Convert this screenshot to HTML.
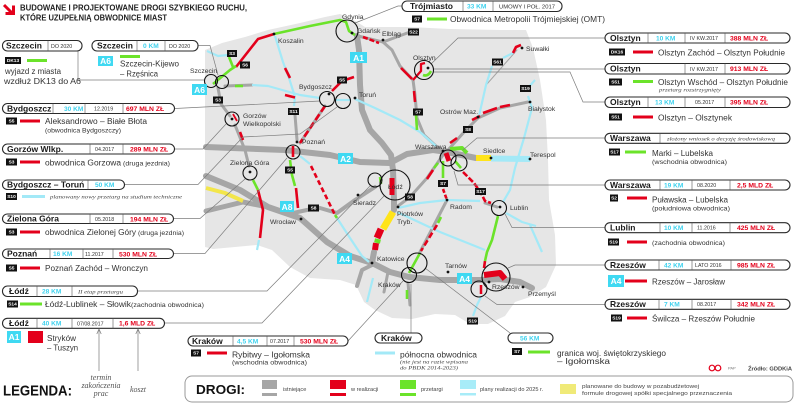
<!DOCTYPE html>
<html><head><meta charset="utf-8">
<style>
html,body{margin:0;padding:0;background:#fff;}
svg{display:block;}
text{font-family:"Liberation Sans",sans-serif;}
.c{font-weight:bold;font-size:8.5px;fill:#1a1a1a}
.km{font-weight:bold;font-size:6.6px;fill:#3fd2ee}
.dt{font-size:5.3px;fill:#333}
.mn{font-weight:bold;font-size:6.8px;fill:#e3001b}
.d{font-size:8px;fill:#333}
.s{font-size:6.3px;fill:#333}
.it{font-family:"Liberation Serif",serif;font-style:italic;font-size:5.4px;fill:#444}
.m{font-size:6.8px;fill:#333}
.bt{font-weight:bold;font-size:4.8px;fill:#fff;text-anchor:middle}
.at{font-weight:bold;font-size:8.5px;fill:#fff;text-anchor:middle}
.pill{fill:#fff;stroke:#2a2a2a;stroke-width:1.1}
.dv{stroke:#555;stroke-width:.6}
.ld{fill:none;stroke:#7d7d7d;stroke-width:.7}
.g{fill:none;stroke:#a6a6a6;stroke-linecap:round;stroke-linejoin:round}
.r{fill:none;stroke:#e3001b;stroke-width:2.6;stroke-linejoin:round}
.gr{fill:none;stroke:#6be32a;stroke-width:2.6;stroke-linejoin:round}
.cy{fill:none;stroke:#a3e9f7;stroke-width:2.2;stroke-linejoin:round}
.ci{fill:none;stroke:#111;stroke-width:1.1}
.lg{font-size:5.6px;fill:#444}
.ser{font-family:"Liberation Serif",serif;font-style:italic;font-size:8px;fill:#555;text-anchor:middle}
</style></head><body>
<svg width="805" height="418" viewBox="0 0 805 418" xmlns="http://www.w3.org/2000/svg">

<!-- Title -->
<path d="M4,5 L11.5,12.5" stroke="#e3001b" stroke-width="3" fill="none"/>
<path d="M5.5,13.5 L13.5,13.5 L13.5,5.5" stroke="#e3001b" stroke-width="3" fill="none"/>
<text x="20" y="10.5" font-weight="bold" font-size="8.5" fill="#222" textLength="227" lengthAdjust="spacingAndGlyphs">BUDOWANE I PROJEKTOWANE DROGI SZYBKIEGO RUCHU,</text>
<text x="20" y="20.5" font-weight="bold" font-size="8.5" fill="#222" textLength="147" lengthAdjust="spacingAndGlyphs">KTÓRE UZUPEŁNIĄ OBWODNICE MIAST</text>

<!-- Map background -->
<path d="M205,50 L222,43 L245,37 L268,30 L300,23 L325,17 L340,14 L352,19 L365,27 L382,27 L410,27 L450,29 L500,30 L526,30 L533,48 L540,80 L546,120 L548,160 L549,200 L555,235 L556,265 L546,287 L530,297 L515,302 L505,316 L488,324 L470,324 L455,315 L435,314 L412,319 L392,318 L375,310 L364,302 L356,285 L340,280 L310,278 L290,267 L272,250 L257,245 L235,247 L213,249 L205,247 Z" fill="#e6e6e6"/>

<!-- thin grey roads -->
<g class="g" stroke-width="3">
<path d="M358,36 L383,42 L410,32"/>
<path d="M383,42 L392,50 L400,66 L413,80 L415,95 L417,118 L424,135 L436,146 L445,152"/>
<path d="M448,150 L465,131 L478,118 L500,108 L528,102"/>
<path d="M218,88 L221,104 L230,116"/>
<path d="M235,125 L245,150 L249,166"/>
<path d="M225,86 L252,85"/>
<path d="M295,115 L297,140"/>
<path d="M325,106 L300,143"/>
<path d="M293,213 L307,210 L320,208 L337,213 L355,200 L375,187" stroke-width="4"/>
<path d="M398,206 L410,197 L427,178 L443,155"/>
<path d="M447,200 L420,252"/>
<path d="M485,203 L497,207"/>
<path d="M408,283 L410,305"/>
<path d="M372,265 L362,270 L357,286" stroke-width="4"/>
<path d="M388,272 L384,292" />
<path d="M487,84 L517,50" stroke-width="1"/>
</g>

<!-- thick grey roads -->
<g class="g" stroke-width="6">
<path d="M357,36 L359,50 L360,85 L362,110 L370,130 L382,143 L391,155 L393,170 L394,200 L394,210"/>
<path d="M206,147 L285,150 L330,155 L360,162 L390,163 L407,154 L433,150 L447,152 L476,158"/>
<path d="M206,176 L240,190 L268,207 L300,218 L327,242 L350,256 L372,263 L390,272 L409,277 L440,280 L480,280 L500,279 L520,282 L532,288"/>
<path d="M206,211 L243,202 L268,207" stroke-width="5"/>
<path d="M374,252 L372,263"/>
</g>

<!-- yellow -->
<path d="M206,188 L225,193 L243,201" stroke="#f3e64a" stroke-width="4" fill="none"/>
<path d="M476,158 L491,158" stroke="#ffe41a" stroke-width="6" fill="none"/>
<path d="M393,212 L383,229" stroke="#ffe41a" stroke-width="7" fill="none"/>

<!-- cyan -->
<path d="M491,158.5 L530,159" stroke="#a3e9f7" stroke-width="6" fill="none"/>
<g class="cy">
<path d="M207,51 L218,56 L228,55"/>
<path d="M252,85 L268,86 L300,95 L320,98"/>
<path d="M335,100 L350,100"/>
<path d="M355,99 L375,108 L400,120 L420,132 L436,146"/>
<path d="M275,36 L283,62 L289,78 L295,97 L294,106"/>
<path d="M300,156 L310,164"/>
<path d="M337,218 L350,238 L362,256 L369,262"/>
<path d="M373,278 L367,302"/>
<path d="M479,116 L486,85 L492,66"/>
<path d="M503,58 L513,53"/>
<path d="M535,80 L528,88"/>
<path d="M528,96 L532,108 L524,138 L515,168 L510,190 L503,202"/>
<path d="M506,213 L522,222 L536,226"/>
<path d="M530,225 L542,252"/>
<path d="M398,208 L420,203 L447,200 L480,201"/>
<path d="M397,212 L440,232 L485,250"/>
<path d="M481,297 L477,305 L473,316"/>
<path d="M259,240 L257,250"/>
</g>

<!-- red -->
<g class="r">
<path d="M236,67 L258,39 L274,34"/>
<path d="M363,37 L379,43" stroke-dasharray="5,2"/>
<path d="M401,68 L412,79"/>
<path d="M414,91 L415,102"/>
<path d="M413,80 L421,71 L421,64 L425,63" stroke-width="2.3"/>
<path d="M513,53 L516,47 L521,45"/>
<path d="M332,91 L342,81 L354,77"/>
<path d="M325,106 L300,143" stroke-dasharray="7,3"/>
<path d="M285,95 L295,97.5"/>
<path d="M285,68 L290,78"/>
<path d="M240,132 L243,140"/>
<path d="M233,114 L237,121" stroke-width="1.8"/>
<path d="M258,190 L263,210 L260,238"/>
<path d="M293,146 L293,157"/>
<path d="M296,188 L298,208"/>
<path d="M311,166 L335,215" stroke-dasharray="5,3"/>
<path d="M450,143 L457,138"/>
<path d="M472,120 L480,116"/>
<path d="M483,113 L497,108"/>
<path d="M500,107 L510,105"/>
<path d="M446,153 L449,161" stroke-width="5"/>
<path d="M427,179 L433,170"/>
<path d="M443,189 L447,200" stroke-dasharray="4,2"/>
<path d="M437,225 L421,251" stroke-dasharray="6,3"/>
<path d="M463,172 L474,183 L481,193 L485,201 L491,203" stroke-dasharray="6,2"/>
<path d="M392,178 L392,195" stroke-width="5"/>
<path d="M381,229 L377,238" stroke-width="7"/>
<path d="M376,243 L375,250" stroke-width="6"/>
<path d="M485,261 L484,268"/>
<path d="M484,275 L500,273 L505,279" stroke-width="6"/>
<path d="M481,285 L481,294" stroke-width="2.5"/>
</g>

<!-- green -->
<g class="gr">
<path d="M213,84 L230,70 L236,66"/>
<path d="M229,57 L233,67"/>
<path d="M235,86 L243,86"/>
<path d="M274,34 L310,26 L340,20 L346,22 L349,31 L355,35"/>
<path d="M423,75 Q428,77 431,71"/>
<path d="M416,115 L417,130"/>
<path d="M450,149 L462,148 L467,153" stroke-width="4"/>
<path d="M455,161 L461,168"/>
<path d="M443,161 L443,178"/>
<path d="M434,168 L438,163"/>
<path d="M441,217 L438,223"/>
<path d="M420,253 L409,273"/>
<path d="M407,290 L407,299"/>
<path d="M498,216 L492,240 L487,252 L485,261"/>
<path d="M290,160 L292,175 L295,186"/>
<path d="M253,180 L258,190"/>
<path d="M380,177 L381,184"/>
<path d="M335,215 L337,218"/>
<path d="M378,239 L377,243" stroke-width="6"/>
</g>

<!-- leader lines -->
<g class="ld">
<path d="M78,51 L78,80 L204,80"/>
<path d="M198,45.5 L210,45.5 L218,75"/>
<path d="M175,108.5 L320,101"/>
<path d="M175,149 L203,149 L226,124"/>
<path d="M125,184.5 L198,184.5 L243,137 L300,134 L337,107"/>
<path d="M173,218.5 L200,218.5 L245,179"/>
<path d="M173,253.5 L205,253.5 L287,158"/>
<path d="M137,291 L267,291 L370,186"/>
<path d="M164,323 L262,323 L384,196"/>
<path d="M348,341 L403,281"/>
<path d="M411,333 L411,284"/>
<path d="M510,333 L425,268"/>
<path d="M355,23 L398,6 L402,6"/>
<path d="M431,64 L458,38 L605,38"/>
<path d="M433,69 L605,69"/>
<path d="M433,72 L570,72 L583,102 L605,102"/>
<path d="M463,150 L477,138 L605,138"/>
<path d="M454,171 L458,185 L605,185"/>
<path d="M505,214 L512,227.5 L605,227.5"/>
<path d="M508,268 L515,265 L605,265"/>
<path d="M485,296 L497,304.5 L605,304.5"/>
</g>

<!-- circles -->
<g class="ci">
<circle cx="211" cy="81" r="6.5"/><circle cx="222" cy="82" r="6.5"/>
<circle cx="347" cy="31" r="11"/>
<circle cx="424" cy="70" r="9.5"/>
<circle cx="327" cy="99" r="7.5"/><circle cx="343" cy="101" r="7.5"/>
<circle cx="232" cy="119" r="7"/>
<circle cx="293" cy="152" r="7"/>
<circle cx="250" cy="173" r="7"/>
<circle cx="375" cy="180" r="7"/><circle cx="395" cy="185" r="15"/>
<circle cx="448" cy="158" r="8"/><circle cx="459" cy="163" r="8"/>
<circle cx="499" cy="208" r="7.5"/>
<circle cx="417" cy="263" r="10"/><circle cx="409" cy="275" r="7.5"/>
<circle cx="496" cy="277" r="14"/><circle cx="479" cy="289" r="8"/>
</g>

<!-- dots -->
<g fill="#111">
<circle cx="274" cy="34" r="1.4"/><circle cx="352" cy="33" r="1.4"/><circle cx="383" cy="40" r="1.4"/>
<circle cx="428" cy="68" r="1.4"/><circle cx="522" cy="48" r="1.4"/><circle cx="530" cy="102" r="1.4"/>
<circle cx="478" cy="117" r="1.4"/><circle cx="329" cy="94" r="1.4"/><circle cx="355" cy="98" r="1.4"/>
<circle cx="232" cy="119" r="1.4"/><circle cx="297" cy="142" r="1.4"/><circle cx="250" cy="172" r="1.4"/>
<circle cx="443" cy="151" r="1.4"/><circle cx="491" cy="158" r="1.4"/><circle cx="530" cy="159" r="1.4"/>
<circle cx="358" cy="195" r="1.4"/><circle cx="398" cy="207" r="1.4"/><circle cx="447" cy="200" r="1.4"/>
<circle cx="500" cy="207" r="1.4"/><circle cx="301" cy="219" r="1.4"/><circle cx="372" cy="263" r="1.4"/>
<circle cx="448" cy="272" r="1.4"/><circle cx="489" cy="282" r="1.4"/><circle cx="523" cy="287" r="1.4"/>
</g>

<!-- map labels -->
<g class="m">
<text x="342" y="19">Gdynia</text>
<text x="357" y="33">Gdańsk</text>
<text x="382" y="36">Elbląg</text>
<text x="278" y="43">Koszalin</text>
<text x="413" y="60">Olsztyn</text>
<text x="526" y="51">Suwałki</text>
<text x="528" y="111">Białystok</text>
<text x="440" y="114">Ostrów Maz.</text>
<text x="299" y="89">Bydgoszcz</text>
<text x="359" y="97">Toruń</text>
<text x="190" y="73">Szczecin</text>
<text x="243" y="118">Gorzów</text>
<text x="243" y="126">Wielkopolski</text>
<text x="302" y="144">Poznań</text>
<text x="230" y="165">Zielona Góra</text>
<text x="415" y="149">Warszawa</text>
<text x="483" y="153">Siedlce</text>
<text x="530" y="157">Terespol</text>
<text x="388" y="189">Łódź</text>
<text x="353" y="205">Sieradz</text>
<text x="397" y="216">Piotrków</text>
<text x="397" y="224">Tryb.</text>
<text x="450" y="209">Radom</text>
<text x="510" y="210">Lublin</text>
<text x="270" y="224">Wrocław</text>
<text x="377" y="261">Katowice</text>
<text x="378" y="287">Kraków</text>
<text x="445" y="268">Tarnów</text>
<text x="492" y="289">Rzeszów</text>
<text x="528" y="296">Przemyśl</text>
</g>

<!-- map badges -->
<g>
<rect x="227" y="50" width="10" height="7" fill="#111"/><text class="bt" x="232" y="55.2">S3</text>
<rect x="240" y="61.5" width="10" height="7" fill="#111"/><text class="bt" x="245" y="66.7">S6</text>
<rect x="213" y="96.5" width="10" height="7" fill="#111"/><text class="bt" x="218" y="101.7">S3</text>
<rect x="288" y="108" width="11" height="7" fill="#111"/><text class="bt" x="293.5" y="113.2">S11</text>
<rect x="337" y="76.5" width="10" height="7" fill="#111"/><text class="bt" x="342" y="81.7">S5</text>
<rect x="285" y="166.5" width="10" height="7" fill="#111"/><text class="bt" x="290" y="171.7">S5</text>
<rect x="308" y="204.5" width="11" height="7" fill="#111"/><text class="bt" x="313.5" y="209.7">S8</text>
<rect x="405" y="193.5" width="10" height="7" fill="#111"/><text class="bt" x="410" y="198.7">S8</text>
<rect x="413" y="108.5" width="10" height="7" fill="#111"/><text class="bt" x="418" y="113.7">S7</text>
<rect x="408" y="28.5" width="11" height="7" fill="#111"/><text class="bt" x="413.5" y="33.7">S22</text>
<rect x="492" y="58.5" width="11" height="7" fill="#111"/><text class="bt" x="497.5" y="63.7">S61</text>
<rect x="520" y="85" width="11" height="7" fill="#111"/><text class="bt" x="525.5" y="90.2">S19</text>
<rect x="463" y="126" width="10" height="7" fill="#111"/><text class="bt" x="468" y="131.2">S8</text>
<rect x="438" y="180" width="10" height="7" fill="#111"/><text class="bt" x="443" y="185.2">S7</text>
<rect x="475" y="188" width="11" height="7" fill="#111"/><text class="bt" x="480.5" y="193.2">S17</text>
<rect x="467" y="317.5" width="11" height="7" fill="#111"/><text class="bt" x="472.5" y="322.7">S19</text>
</g>

<!-- A labels -->
<g>
<rect x="192" y="84" width="15" height="11" fill="#3fd9f2"/><text class="at" x="199.5" y="92.8">A6</text>
<rect x="350" y="52" width="17" height="11" fill="#3fd9f2"/><text class="at" x="358.5" y="60.8">A1</text>
<rect x="338" y="153" width="15" height="11" fill="#3fd9f2"/><text class="at" x="345.5" y="161.8">A2</text>
<rect x="280" y="201" width="14" height="11" fill="#3fd9f2"/><text class="at" x="287" y="209.8">A8</text>
<rect x="337" y="253" width="15" height="11" fill="#3fd9f2"/><text class="at" x="344.5" y="261.8">A4</text>
<rect x="457" y="273" width="15" height="11" fill="#3fd9f2"/><text class="at" x="464.5" y="281.8">A4</text>
</g>

<!-- LEFT COLUMN -->
<rect class="pill" x="2.5" y="40.5" width="79.5" height="10.5" rx="5"/>
<line class="dv" x1="48" y1="40.5" x2="48" y2="51"/>
<text class="c" x="6" y="48.5">Szczecin</text><text class="dt" x="51" y="47.8">DO 2020</text>
<rect x="5" y="57" width="16" height="7" fill="#111"/><text class="bt" x="13" y="62.2">DK13</text>
<line x1="27" y1="60.5" x2="47" y2="60.5" stroke="#6be32a" stroke-width="3"/>
<text class="d" x="5" y="74" textLength="56" lengthAdjust="spacingAndGlyphs">wyjazd z miasta</text>
<text class="d" x="4" y="84" textLength="77" lengthAdjust="spacingAndGlyphs">wzdłuż DK13 do A6</text>

<rect class="pill" x="92" y="40.5" width="106" height="10.5" rx="5"/>
<line class="dv" x1="137" y1="40.5" x2="137" y2="51"/><line class="dv" x1="165" y1="40.5" x2="165" y2="51"/>
<text class="c" x="97" y="48.5">Szczecin</text><text class="km" x="143" y="48">0 KM</text><text class="dt" x="169" y="47.8">DO 2020</text>
<rect x="98" y="56" width="15" height="10" fill="#3fd9f2"/><text class="at" x="105.5" y="64" font-size="7.5">A6</text>
<line x1="120" y1="56.5" x2="140" y2="56.5" stroke="#6be32a" stroke-width="3"/>
<text class="d" x="120" y="66.5" textLength="59" lengthAdjust="spacingAndGlyphs">Szczecin-Kijewo</text>
<text class="d" x="120" y="76.5" textLength="38" lengthAdjust="spacingAndGlyphs">– Rzęśnica</text>

<rect class="pill" x="2.5" y="103.5" width="172" height="10" rx="5"/>
<line class="dv" x1="53" y1="103.5" x2="53" y2="113.5"/><line class="dv" x1="85" y1="103.5" x2="85" y2="113.5"/><line class="dv" x1="123" y1="103.5" x2="123" y2="113.5"/>
<text class="c" x="7" y="111.3">Bydgoszcz</text><text class="km" x="64" y="110.8">30 KM</text><text class="dt" x="94" y="110.5">12.2019</text><text class="mn" x="126" y="110.8">697 MLN ZŁ</text>
<rect x="6" y="117.5" width="11" height="7" fill="#111"/><text class="bt" x="11.5" y="122.7">S5</text>
<line x1="20" y1="121" x2="40" y2="121" stroke="#e3001b" stroke-width="3"/>
<text class="d" x="45" y="124" textLength="102" lengthAdjust="spacingAndGlyphs">Aleksandrowo – Białe Błota</text>
<text class="s" x="45" y="132.5" textLength="76" lengthAdjust="spacingAndGlyphs">(obwodnica Bydgoszczy)</text>

<rect class="pill" x="2.5" y="144" width="172" height="10" rx="5"/>
<line class="dv" x1="90" y1="144" x2="90" y2="154"/><line class="dv" x1="123" y1="144" x2="123" y2="154"/>
<text class="c" x="7" y="151.8">Gorzów Wlkp.</text><text class="dt" x="95" y="151">04.2017</text><text class="mn" x="130" y="151.3">289 MLN ZŁ</text>
<rect x="6" y="158.5" width="11" height="7" fill="#111"/><text class="bt" x="11.5" y="163.7">S3</text>
<line x1="20" y1="162" x2="40" y2="162" stroke="#e3001b" stroke-width="3"/>
<text class="d" x="45" y="165.5" textLength="76" lengthAdjust="spacingAndGlyphs">obwodnica Gorzowa</text>
<text class="s" x="123" y="165.5" textLength="47" lengthAdjust="spacingAndGlyphs">(druga jezdnia)</text>

<rect class="pill" x="2.5" y="180" width="122" height="9.5" rx="5"/>
<line class="dv" x1="88" y1="180" x2="88" y2="189.5"/>
<text class="c" x="7" y="187.6">Bydgoszcz – Toruń</text><text class="km" x="95" y="187">50 KM</text>
<rect x="6" y="193" width="11" height="7" fill="#111"/><text class="bt" x="11.5" y="198.2">S10</text>
<line x1="22" y1="196.5" x2="45" y2="196.5" stroke="#a3e9f7" stroke-width="3"/>
<text class="it" x="50" y="198.5" textLength="132" lengthAdjust="spacingAndGlyphs">planowany nowy przetarg na studium techniczne</text>

<rect class="pill" x="2.5" y="214" width="171" height="9.5" rx="5"/>
<line class="dv" x1="90" y1="214" x2="90" y2="223.5"/><line class="dv" x1="123" y1="214" x2="123" y2="223.5"/>
<text class="c" x="7" y="221.6">Zielona Góra</text><text class="dt" x="95" y="221">05.2018</text><text class="mn" x="130" y="221.3">194 MLN ZŁ</text>
<rect x="6" y="228.5" width="11" height="7" fill="#111"/><text class="bt" x="11.5" y="233.7">S3</text>
<line x1="20" y1="232" x2="40" y2="232" stroke="#e3001b" stroke-width="3"/>
<text class="d" x="45" y="235" textLength="91" lengthAdjust="spacingAndGlyphs">obwodnica Zielonej Góry</text>
<text class="s" x="138" y="235" textLength="46" lengthAdjust="spacingAndGlyphs">(druga jezdnia)</text>

<rect class="pill" x="2.5" y="249" width="171" height="9.5" rx="5"/>
<line class="dv" x1="50" y1="249" x2="50" y2="258.5"/><line class="dv" x1="83" y1="249" x2="83" y2="258.5"/><line class="dv" x1="113" y1="249" x2="113" y2="258.5"/>
<text class="c" x="7" y="256.6">Poznań</text><text class="km" x="53" y="256">16 KM</text><text class="dt" x="85" y="256">11.2017</text><text class="mn" x="119" y="256.3">530 MLN ZŁ</text>
<rect x="6" y="264.5" width="11" height="7" fill="#111"/><text class="bt" x="11.5" y="269.7">S5</text>
<line x1="20" y1="268" x2="40" y2="268" stroke="#e3001b" stroke-width="3"/>
<text class="d" x="45" y="271" textLength="103" lengthAdjust="spacingAndGlyphs">Poznań Zachód – Wronczyn</text>

<rect class="pill" x="2.5" y="286" width="135" height="10.5" rx="5"/>
<line class="dv" x1="37" y1="286" x2="37" y2="296.5"/><line class="dv" x1="72" y1="286" x2="72" y2="296.5"/>
<text class="c" x="9" y="294">Łódź</text><text class="km" x="42" y="293.5">28 KM</text><text class="it" x="78" y="293.5" textLength="45" lengthAdjust="spacingAndGlyphs">II etap przetargu</text>
<rect x="7" y="300.5" width="11" height="7" fill="#111"/><text class="bt" x="12.5" y="305.7">S14</text>
<line x1="20" y1="304" x2="42" y2="304" stroke="#6be32a" stroke-width="3"/>
<text class="d" x="45" y="307" textLength="86" lengthAdjust="spacingAndGlyphs">Łódź-Lublinek – Słowik</text>
<text class="s" x="131" y="307" textLength="73" lengthAdjust="spacingAndGlyphs">(zachodnia obwodnica)</text>

<rect class="pill" x="2.5" y="318.3" width="162" height="10" rx="5"/>
<line class="dv" x1="37" y1="318.3" x2="37" y2="328.3"/><line class="dv" x1="72" y1="318.3" x2="72" y2="328.3"/><line class="dv" x1="113" y1="318.3" x2="113" y2="328.3"/>
<text class="c" x="9" y="326">Łódź</text><text class="km" x="42" y="325.6">40 KM</text><text class="dt" x="77" y="325.3">07/08.2017</text><text class="mn" x="119" y="325.6">1,6 MLD ZŁ</text>
<rect x="7" y="331" width="14" height="12" fill="#3fd9f2"/><text class="at" x="14" y="340" font-size="7.5">A1</text>
<rect x="28" y="331" width="15" height="12" fill="#e3001b"/>
<text class="d" x="47" y="341" textLength="29" lengthAdjust="spacingAndGlyphs">Stryków</text>
<text class="d" x="47" y="350.5" textLength="31" lengthAdjust="spacingAndGlyphs">– Tuszyn</text>

<!-- legend explanations -->
<path d="M99,330 L99,371" stroke="#777" stroke-width=".7"/>
<path d="M96.8,334 L99,329 L101.2,334" fill="none" stroke="#777" stroke-width=".7"/>
<path d="M138,330 L138,371" stroke="#777" stroke-width=".7"/>
<path d="M135.8,334 L138,329 L140.2,334" fill="none" stroke="#777" stroke-width=".7"/>
<text class="ser" x="101" y="380">termin</text>
<text class="ser" x="101" y="388">zakończenia</text>
<text class="ser" x="101" y="396">prac</text>
<text class="ser" x="138" y="392">koszt</text>
<text x="3" y="395.5" font-weight="bold" font-size="15" fill="#111" textLength="69" lengthAdjust="spacingAndGlyphs">LEGENDA:</text>

<!-- Trójmiasto -->
<rect class="pill" x="402" y="1" width="160" height="10.5" rx="5"/>
<line class="dv" x1="463" y1="1" x2="463" y2="11.5"/><line class="dv" x1="493" y1="1" x2="493" y2="11.5"/>
<text class="c" x="410" y="9.2">Trójmiasto</text><text class="km" x="467" y="8.7">33 KM</text><text class="dt" x="499" y="8.3" textLength="56" lengthAdjust="spacingAndGlyphs">UMOWY I POŁ. 2017</text>
<rect x="412" y="15.5" width="10" height="7" fill="#111"/><text class="bt" x="417" y="20.7">S7</text>
<line x1="427" y1="19" x2="447" y2="19" stroke="#6be32a" stroke-width="3"/>
<text class="d" x="450" y="22" textLength="155" lengthAdjust="spacingAndGlyphs">Obwodnica Metropolii Trójmiejskiej (OMT)</text>

<!-- RIGHT COLUMN -->
<rect class="pill" x="605" y="33" width="185" height="10" rx="5"/>
<line class="dv" x1="648" y1="33" x2="648" y2="43"/><line class="dv" x1="685" y1="33" x2="685" y2="43"/><line class="dv" x1="725" y1="33" x2="725" y2="43"/>
<text class="c" x="610" y="40.8">Olsztyn</text><text class="km" x="656" y="40.3">10 KM</text><text class="dt" x="690" y="40">IV KW.2017</text><text class="mn" x="730" y="40.3">388 MLN ZŁ</text>
<rect x="609" y="48.5" width="16" height="7" fill="#111"/><text class="bt" x="617" y="53.7">DK16</text>
<line x1="633" y1="52" x2="653" y2="52" stroke="#e3001b" stroke-width="3"/>
<text class="d" x="658" y="55.5" textLength="127" lengthAdjust="spacingAndGlyphs">Olsztyn Zachód – Olsztyn Południe</text>

<rect class="pill" x="605" y="63.5" width="185" height="10.5" rx="5"/>
<line class="dv" x1="685" y1="63.5" x2="685" y2="74"/><line class="dv" x1="725" y1="63.5" x2="725" y2="74"/>
<text class="c" x="610" y="71.5">Olsztyn</text><text class="dt" x="690" y="70.8">IV KW.2017</text><text class="mn" x="730" y="71">913 MLN ZŁ</text>
<rect x="609" y="78.5" width="13" height="7" fill="#111"/><text class="bt" x="615.5" y="83.7">S51</text>
<line x1="633" y1="81.5" x2="653" y2="81.5" stroke="#6be32a" stroke-width="3"/>
<text class="d" x="658" y="84.8" textLength="130" lengthAdjust="spacingAndGlyphs">Olsztyn Wschód – Olsztyn Południe</text>
<text class="it" x="659" y="91.3" textLength="62" lengthAdjust="spacingAndGlyphs">przetarg rozstrzygnięty</text>

<rect class="pill" x="605" y="97" width="185" height="10.5" rx="5"/>
<line class="dv" x1="648" y1="97" x2="648" y2="107.5"/><line class="dv" x1="685" y1="97" x2="685" y2="107.5"/><line class="dv" x1="725" y1="97" x2="725" y2="107.5"/>
<text class="c" x="610" y="105">Olsztyn</text><text class="km" x="655" y="104.5">13 KM</text><text class="dt" x="695" y="104.2">05.2017</text><text class="mn" x="730" y="104.5">395 MLN ZŁ</text>
<rect x="609" y="113.5" width="13" height="7" fill="#111"/><text class="bt" x="615.5" y="118.7">S51</text>
<line x1="633" y1="117" x2="653" y2="117" stroke="#e3001b" stroke-width="3"/>
<text class="d" x="658" y="120.5" textLength="74" lengthAdjust="spacingAndGlyphs">Olsztyn – Olsztynek</text>

<rect class="pill" x="605" y="133.3" width="185" height="10" rx="5"/>
<line class="dv" x1="660" y1="133.3" x2="660" y2="143.3"/>
<text class="c" x="610" y="141">Warszawa</text>
<text class="it" x="667" y="140.3" textLength="108" lengthAdjust="spacingAndGlyphs">złożony wniosek o decyzję środowiskową</text>
<rect x="609" y="148.5" width="11" height="7" fill="#111"/><text class="bt" x="614.5" y="153.7">S17</text>
<line x1="625" y1="152" x2="646" y2="152" stroke="#6be32a" stroke-width="3"/>
<text class="d" x="652" y="155.8" textLength="61" lengthAdjust="spacingAndGlyphs">Marki – Lubelska</text>
<text class="s" x="652" y="163.8" textLength="75" lengthAdjust="spacingAndGlyphs">(wschodnia obwodnica)</text>

<rect class="pill" x="605" y="180" width="185" height="10" rx="5"/>
<line class="dv" x1="660" y1="180" x2="660" y2="190"/><line class="dv" x1="692" y1="180" x2="692" y2="190"/><line class="dv" x1="730" y1="180" x2="730" y2="190"/>
<text class="c" x="610" y="187.8">Warszawa</text><text class="km" x="664" y="187.3">19 KM</text><text class="dt" x="697" y="187">08.2020</text><text class="mn" x="737" y="187.3">2,5 MLD ZŁ</text>
<rect x="610" y="194.5" width="8" height="7" fill="#111"/><text class="bt" x="614" y="199.7">S2</text>
<line x1="627" y1="198" x2="647" y2="198" stroke="#e3001b" stroke-width="3"/>
<text class="d" x="652" y="202.3" textLength="76" lengthAdjust="spacingAndGlyphs">Puławska – Lubelska</text>
<text class="s" x="652" y="210.5" textLength="78" lengthAdjust="spacingAndGlyphs">(południowa obwodnica)</text>

<rect class="pill" x="605" y="222.7" width="185" height="10" rx="5"/>
<line class="dv" x1="660" y1="222.7" x2="660" y2="232.7"/><line class="dv" x1="692" y1="222.7" x2="692" y2="232.7"/><line class="dv" x1="730" y1="222.7" x2="730" y2="232.7"/>
<text class="c" x="610" y="230.5">Lublin</text><text class="km" x="664" y="230">10 KM</text><text class="dt" x="697" y="229.7">11.2016</text><text class="mn" x="737" y="230">425 MLN ZŁ</text>
<rect x="608" y="238.5" width="11" height="7" fill="#111"/><text class="bt" x="613.5" y="243.7">S19</text>
<line x1="627" y1="242" x2="647" y2="242" stroke="#e3001b" stroke-width="3"/>
<text class="s" x="652" y="245" font-size="6.6" textLength="73" lengthAdjust="spacingAndGlyphs">(zachodnia obwodnica)</text>

<rect class="pill" x="605" y="260" width="185" height="10" rx="5"/>
<line class="dv" x1="659" y1="260" x2="659" y2="270"/><line class="dv" x1="692" y1="260" x2="692" y2="270"/><line class="dv" x1="731" y1="260" x2="731" y2="270"/>
<text class="c" x="610" y="267.8">Rzeszów</text><text class="km" x="664" y="267.3">42 KM</text><text class="dt" x="695" y="267">LATO 2016</text><text class="mn" x="737" y="267.3">985 MLN ZŁ</text>
<rect x="608" y="275" width="16" height="12" fill="#3fd9f2"/><text class="at" x="616" y="284" font-size="7.5">A4</text>
<line x1="625" y1="281" x2="647" y2="281" stroke="#e3001b" stroke-width="3"/>
<text class="d" x="652" y="284.5" textLength="73" lengthAdjust="spacingAndGlyphs">Rzeszów – Jarosław</text>

<rect class="pill" x="605" y="299.3" width="185" height="10" rx="5"/>
<line class="dv" x1="659" y1="299.3" x2="659" y2="309.3"/><line class="dv" x1="692" y1="299.3" x2="692" y2="309.3"/><line class="dv" x1="731" y1="299.3" x2="731" y2="309.3"/>
<text class="c" x="610" y="307">Rzeszów</text><text class="km" x="664" y="306.5">7 KM</text><text class="dt" x="697" y="306.2">08.2017</text><text class="mn" x="737" y="306.5">342 MLN ZŁ</text>
<rect x="611" y="314.5" width="11" height="7" fill="#111"/><text class="bt" x="616.5" y="319.7">S19</text>
<line x1="627" y1="318" x2="647" y2="318" stroke="#e3001b" stroke-width="3"/>
<text class="d" x="652" y="321.5" textLength="103" lengthAdjust="spacingAndGlyphs">Świlcza – Rzeszów Południe</text>

<!-- BOTTOM MIDDLE -->
<rect class="pill" x="188" y="336" width="160" height="10" rx="5"/>
<line class="dv" x1="233" y1="336" x2="233" y2="346"/><line class="dv" x1="267" y1="336" x2="267" y2="346"/><line class="dv" x1="294" y1="336" x2="294" y2="346"/>
<text class="c" x="192" y="343.8">Kraków</text><text class="km" x="237" y="343.3">4,5 KM</text><text class="dt" x="270" y="343">07.2017</text><text class="mn" x="300" y="343.3">530 MLN ZŁ</text>
<rect x="191" y="349.5" width="10" height="7" fill="#111"/><text class="bt" x="196" y="354.7">S7</text>
<line x1="207" y1="353" x2="227" y2="353" stroke="#e3001b" stroke-width="3"/>
<text class="d" x="232" y="357.5" textLength="78" lengthAdjust="spacingAndGlyphs">Rybitwy – Igołomska</text>
<text class="s" x="232" y="364.5" textLength="75" lengthAdjust="spacingAndGlyphs">(wschodnia obwodnica)</text>

<rect class="pill" x="375" y="333" width="47" height="10" rx="5"/>
<text class="c" x="381" y="340.8">Kraków</text>
<line x1="375" y1="353" x2="395" y2="353" stroke="#a3e9f7" stroke-width="3"/>
<text class="d" x="400" y="357.5" textLength="77" lengthAdjust="spacingAndGlyphs">północna obwodnica</text>
<text class="it" x="400" y="363.5" textLength="68" lengthAdjust="spacingAndGlyphs">(nie jest na razie wpisana</text>
<text class="it" x="400" y="369.5" textLength="58" lengthAdjust="spacingAndGlyphs">do PBDK 2014-2023)</text>

<rect class="pill" x="508" y="333" width="45" height="10" rx="5"/>
<text class="km" x="520" y="340.5">56 KM</text>
<rect x="512" y="348" width="10" height="7" fill="#111"/><text class="bt" x="517" y="353.2">S7</text>
<line x1="528" y1="352" x2="550" y2="352" stroke="#6be32a" stroke-width="3"/>
<text class="d" x="557" y="356" textLength="109" lengthAdjust="spacingAndGlyphs">granica woj. świętokrzyskiego</text>
<text class="d" x="557" y="364" textLength="53" lengthAdjust="spacingAndGlyphs">– Igołomska</text>

<!-- source -->
<circle cx="712" cy="368" r="2.8" fill="none" stroke="#e3001b" stroke-width="1.2"/>
<circle cx="718" cy="368" r="2.8" fill="none" stroke="#e3001b" stroke-width="1.2"/>
<text x="728" y="369.5" font-size="4" fill="#777">PAP</text>
<text x="748" y="370.5" font-size="5.5" font-weight="bold" fill="#444" textLength="44" lengthAdjust="spacingAndGlyphs">Źródło: GDDKiA</text>

<!-- DROGI legend -->
<rect x="185" y="376" width="608" height="26" rx="7" fill="#fff" stroke="#9a9a9a" stroke-width="1"/>
<text x="196" y="394" font-weight="bold" font-size="13" fill="#111" textLength="49" lengthAdjust="spacingAndGlyphs">DROGI:</text>
<rect x="262" y="380" width="15" height="9" fill="#a6a6a6"/><rect x="262" y="393" width="15" height="3" fill="#a6a6a6"/>
<text class="lg" x="283" y="391">istniejące</text>
<rect x="330" y="380" width="16" height="9" fill="#e3001b"/><rect x="330" y="393" width="16" height="3" fill="#e3001b"/>
<text class="lg" x="351" y="391">w realizacji</text>
<rect x="400" y="380" width="16" height="9" fill="#6be32a"/><rect x="400" y="393" width="16" height="3" fill="#6be32a"/>
<text class="lg" x="421" y="391">przetargi</text>
<rect x="460" y="380" width="16" height="9" fill="#a8ecf8"/><rect x="460" y="393" width="16" height="2.5" fill="#a8ecf8"/>
<text class="lg" x="480" y="391">plany realizacji do 2025 r.</text>
<rect x="560" y="384" width="16" height="10" fill="#f0ea78"/>
<text class="lg" x="582" y="388" font-size="5.3" textLength="117" lengthAdjust="spacingAndGlyphs">planowane do budowy w pozabudżetowej</text>
<text class="lg" x="582" y="395" font-size="5.3" textLength="150" lengthAdjust="spacingAndGlyphs">formule drogowej spółki specjalnego przeznaczenia</text>

</svg>
</body></html>
